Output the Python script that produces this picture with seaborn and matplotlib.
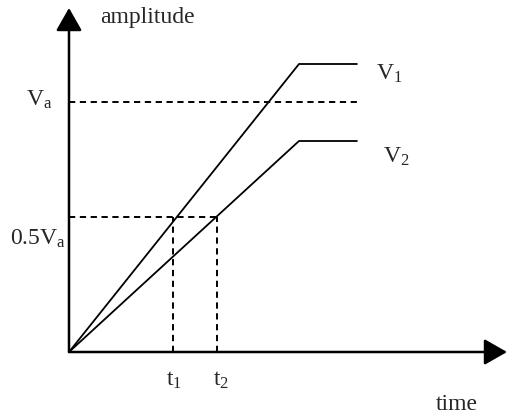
import seaborn as sns
import matplotlib.pyplot as plt
import pandas as pd

sns.set_style("white")
plt.rcParams["font.family"] = ["Liberation Serif", "DejaVu Serif"]
plt.rcParams["mathtext.fontset"] = "custom"
plt.rcParams["mathtext.rm"] = "Liberation Serif"
plt.rcParams["mathtext.it"] = "Liberation Serif:italic"
plt.rcParams["lines.scale_dashes"] = False

# ramp signals (time normalised to end of ramp, amplitude to Va)
time_pts = [0.0, 1.0, 1.252]
v1_amp = [0.0, 1.152, 1.152]
v2_amp = [0.0, 0.844, 0.844]
va_level = 1.0
half_va = 0.54
t1 = 0.452
t2 = 0.643
t_end = 1.252

df = pd.DataFrame({
    "time": time_pts * 2,
    "amplitude": v1_amp + v2_amp,
    "signal": ["V1"] * 3 + ["V2"] * 3,
})

W, H = 507, 418
fig = plt.figure(figsize=(W / 100, H / 100), dpi=100)
ax = fig.add_axes([0, 0, 1, 1])

# pixel mapping: origin at (69, 352), 230 px per time unit, 250 px per amplitude unit
x0, y0, sx, sy = 69, 352, 230, 250
ax.set_xlim(-x0 / sx, (W - x0) / sx)
ax.set_ylim((y0 - H) / sy, y0 / sy)


def px(x, y):
    return (x - x0) / sx, (y0 - y) / sy


sns.lineplot(data=df, x="time", y="amplitude", units="signal", estimator=None,
             sort=False, color="black", linewidth=1.3, ax=ax)

dash = (0, (4.5, 3.3))
ax.plot([0, t_end], [va_level, va_level], color="black", lw=1.4, ls=dash)
ax.plot([0, t2], [half_va, half_va], color="black", lw=1.4, ls=dash)
ax.plot([t1, t1], [0, half_va], color="black", lw=1.4, ls=dash)
ax.plot([t2, t2], [0, half_va], color="black", lw=1.4, ls=dash)

# axes with arrow heads
arrow = dict(arrowstyle="-|>,head_length=0.7,head_width=0.4", lw=1.8,
             color="black", shrinkA=0, shrinkB=0, mutation_scale=20)
ax.annotate("", xy=px(69, 8), xytext=(0, 0), arrowprops=arrow)
ax.annotate("", xy=px(507, 352), xytext=(0, 0), arrowprops=arrow)

fs = 17
ax.text(*px(100, 23), "amplitude", fontsize=fs, ha="left", va="baseline")
ax.text(*px(436, 410), "time", fontsize=fs, ha="left", va="baseline")
ax.text(*px(26, 106), r"V$_\mathrm{a}$", fontsize=fs, ha="left", va="baseline")
ax.text(*px(10, 245), r"0.5V$_\mathrm{a}$", fontsize=fs, ha="left", va="baseline")
ax.text(*px(376, 80), r"V$_\mathrm{1}$", fontsize=fs, ha="left", va="baseline")
ax.text(*px(383, 163), r"V$_\mathrm{2}$", fontsize=fs, ha="left", va="baseline")
ax.text(*px(166, 386), r"t$_\mathrm{1}$", fontsize=fs, ha="left", va="baseline")
ax.text(*px(213, 386), r"t$_\mathrm{2}$", fontsize=fs, ha="left", va="baseline")

ax.set_axis_off()
legend = ax.get_legend()
if legend is not None:
    legend.remove()

fig.savefig("out.png", dpi=100)
plt.close(fig)
